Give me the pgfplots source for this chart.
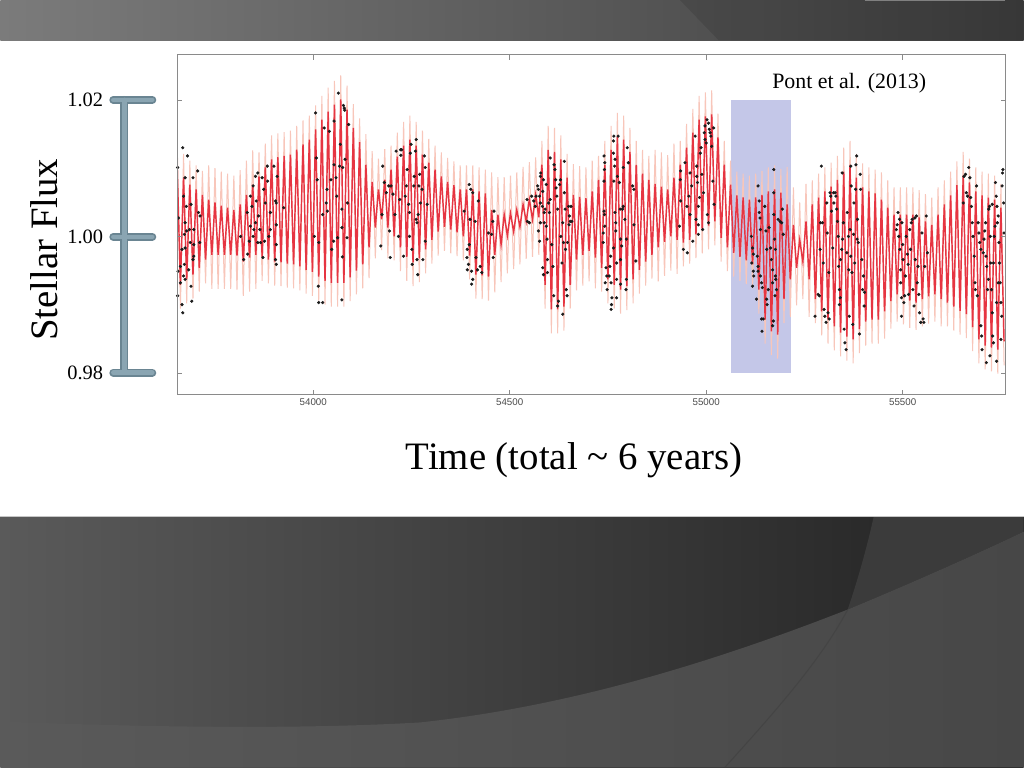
\documentclass[border=0pt]{standalone}
\usepackage{pgfplots}
\pgfplotsset{compat=1.18}
\usepackage{pgfplotstable}
\usepgfplotslibrary{fillbetween}
\usepackage{fontspec}
\setmainfont{Liberation Serif}
\newfontfamily\sansf{Liberation Sans}
\definecolor{topL}{HTML}{7B7B7B}
\definecolor{topR}{HTML}{3E3E3E}
\definecolor{botL}{HTML}{5A5A5A}
\definecolor{botR}{HTML}{222222}
\definecolor{botRT}{HTML}{3B3B3B}
\definecolor{lowL}{HTML}{5A5A5A}
\definecolor{lowR}{HTML}{474747}
\definecolor{barD}{HTML}{6A8592}
\definecolor{barL}{HTML}{8AA5B2}
\definecolor{lav}{HTML}{C4C7E8}
\definecolor{bandfill}{HTML}{FBD5CB}
\definecolor{bandline}{HTML}{F8C6BA}
\definecolor{redline}{HTML}{E63542}
\definecolor{framec}{HTML}{8A8A8A}
\definecolor{dotc}{HTML}{1B1B1B}

\pgfplotstableread{
t m b
53654 1.0098 1.0133
53662 0.9929 0.9894
53670 1.0086 1.0121
53678 0.9937 0.9902
53686 1.0076 1.0111
53694 0.9944 0.9909
53702 1.0069 1.0104
53710 0.9954 0.9919
53718 1.0061 1.0096
53726 0.9966 0.9931
53734 1.0054 1.0104
53742 0.9973 0.9923
53750 1.0050 1.0100
53758 0.9973 0.9923
53766 1.0045 1.0095
53774 0.9973 0.9923
53782 1.0042 1.0092
53790 0.9973 0.9923
53798 1.0039 1.0089
53806 0.9972 0.9922
53814 1.0047 1.0097
53822 0.9963 0.9913
53830 1.0061 1.0111
53838 0.9969 0.9919
53846 1.0076 1.0126
53854 0.9973 0.9923
53862 1.0088 1.0123
53870 0.9970 0.9935
53878 1.0101 1.0136
53886 0.9966 0.9931
53894 1.0113 1.0148
53902 0.9963 0.9928
53910 1.0116 1.0151
53918 0.9962 0.9927
53926 1.0118 1.0153
53934 0.9960 0.9925
53942 1.0120 1.0155
53950 0.9959 0.9924
53958 1.0127 1.0162
53966 0.9956 0.9921
53974 1.0135 1.0170
53982 0.9951 0.9916
53990 1.0142 1.0177
53998 0.9948 0.9913
54006 1.0157 1.0192
54014 0.9941 0.9906
54022 1.0171 1.0206
54030 0.9935 0.9900
54038 1.0183 1.0218
54046 0.9932 0.9897
54054 1.0193 1.0228
54062 0.9932 0.9897
54070 1.0201 1.0236
54078 0.9932 0.9897
54086 1.0186 1.0221
54094 0.9940 0.9905
54102 1.0159 1.0194
54110 0.9950 0.9915
54118 1.0138 1.0173
54126 0.9959 0.9924
54134 1.0105 1.0150
54142 0.9984 0.9939
54150 1.0080 1.0125
54158 1.0013 0.9968
54166 1.0069 1.0114
54174 1.0025 0.9980
54182 1.0083 1.0128
54190 1.0013 0.9968
54198 1.0098 1.0133
54206 1.0000 0.9965
54214 1.0117 1.0152
54222 0.9984 0.9949
54230 1.0133 1.0168
54238 0.9970 0.9935
54246 1.0142 1.0177
54254 0.9962 0.9927
54262 1.0133 1.0168
54270 0.9968 0.9933
54278 1.0120 1.0155
54286 0.9981 0.9946
54294 1.0108 1.0143
54302 0.9995 0.9960
54310 1.0098 1.0133
54318 1.0007 0.9972
54326 1.0088 1.0123
54334 1.0014 0.9979
54342 1.0080 1.0115
54350 1.0010 0.9975
54358 1.0075 1.0110
54366 1.0006 0.9971
54374 1.0069 1.0104
54382 1.0000 0.9965
54390 1.0069 1.0104
54398 0.9972 0.9937
54406 1.0069 1.0104
54414 0.9944 0.9909
54422 1.0066 1.0101
54430 0.9943 0.9908
54438 1.0063 1.0098
54446 0.9941 0.9906
54454 1.0039 1.0094
54462 0.9973 0.9918
54470 1.0032 1.0087
54478 0.9988 0.9933
54486 1.0032 1.0087
54494 1.0001 0.9946
54502 1.0034 1.0089
54510 1.0007 0.9952
54518 1.0039 1.0094
54526 1.0014 0.9959
54534 1.0047 1.0102
54542 1.0022 0.9967
54550 1.0054 1.0109
54558 1.0025 0.9970
54566 1.0061 1.0116
54574 1.0028 0.9973
54582 1.0105 1.0140
54590 0.9929 0.9894
54598 1.0127 1.0162
54606 0.9893 0.9858
54614 1.0124 1.0159
54622 0.9893 0.9858
54630 1.0113 1.0148
54638 0.9897 0.9862
54646 1.0086 1.0121
54654 0.9929 0.9894
54662 1.0061 1.0106
54670 0.9966 0.9921
54678 1.0058 1.0103
54686 0.9973 0.9928
54694 1.0056 1.0101
54702 0.9979 0.9934
54710 1.0066 1.0111
54718 0.9969 0.9924
54726 1.0083 1.0118
54734 0.9954 0.9919
54742 1.0105 1.0140
54750 0.9937 0.9902
54758 1.0127 1.0162
54766 0.9929 0.9894
54774 1.0146 1.0181
54782 0.9922 0.9887
54790 1.0142 1.0177
54798 0.9927 0.9892
54806 1.0124 1.0159
54814 0.9937 0.9902
54822 1.0105 1.0140
54830 0.9951 0.9916
54838 1.0092 1.0127
54846 0.9963 0.9928
54854 1.0083 1.0118
54862 0.9973 0.9938
54870 1.0077 1.0127
54878 0.9984 0.9934
54886 1.0073 1.0123
54894 0.9992 0.9942
54902 1.0069 1.0119
54910 1.0000 0.9950
54918 1.0086 1.0136
54926 0.9995 0.9945
54934 1.0105 1.0140
54942 0.9991 0.9956
54950 1.0130 1.0165
54958 0.9995 0.9960
54966 1.0152 1.0187
54974 1.0003 0.9968
54982 1.0171 1.0206
54990 1.0010 0.9975
54998 1.0176 1.0211
55006 1.0016 0.9981
55014 1.0179 1.0214
55022 1.0022 0.9987
55030 1.0145 1.0180
55038 0.9998 0.9963
55046 1.0105 1.0140
55054 0.9984 0.9949
55062 1.0076 1.0111
55070 0.9976 0.9941
55078 1.0060 1.0095
55086 0.9970 0.9935
55094 1.0057 1.0092
55102 0.9965 0.9930
55110 1.0054 1.0089
55118 0.9959 0.9924
55126 1.0057 1.0092
55134 0.9922 0.9887
55142 1.0061 1.0096
55150 0.9878 0.9843
55158 1.0066 1.0101
55166 0.9861 0.9826
55174 1.0069 1.0104
55182 0.9856 0.9821
55190 1.0064 1.0099
55198 0.9908 0.9873
55206 1.0047 1.0102
55214 0.9937 0.9882
55222 1.0017 1.0072
55230 0.9954 0.9899
55238 0.9995 1.0050
55246 0.9963 0.9908
55254 1.0022 1.0077
55262 0.9937 0.9882
55270 1.0047 1.0082
55278 0.9908 0.9873
55286 1.0057 1.0092
55294 0.9890 0.9855
55302 1.0066 1.0101
55310 0.9878 0.9843
55318 1.0073 1.0108
55326 0.9868 0.9833
55334 1.0083 1.0118
55342 0.9859 0.9824
55350 1.0095 1.0130
55358 0.9853 0.9818
55366 1.0105 1.0140
55374 0.9849 0.9814
55382 1.0086 1.0121
55390 0.9864 0.9829
55398 1.0072 1.0107
55406 0.9875 0.9840
55414 1.0066 1.0101
55422 0.9878 0.9843
55430 1.0063 1.0098
55438 0.9878 0.9843
55446 1.0054 1.0094
55454 0.9890 0.9850
55462 1.0042 1.0082
55470 0.9905 0.9865
55478 1.0032 1.0072
55486 0.9915 0.9875
55494 1.0032 1.0072
55502 0.9911 0.9871
55510 1.0032 1.0072
55518 0.9906 0.9866
55526 1.0032 1.0072
55534 0.9903 0.9863
55542 1.0028 1.0068
55550 0.9908 0.9868
55558 1.0022 1.0062
55566 0.9912 0.9872
55574 1.0017 1.0057
55582 0.9915 0.9875
55590 1.0032 1.0072
55598 0.9908 0.9868
55606 1.0047 1.0082
55614 0.9903 0.9868
55622 1.0060 1.0095
55630 0.9897 0.9862
55638 1.0075 1.0110
55646 0.9891 0.9856
55654 1.0089 1.0124
55662 0.9886 0.9851
55670 1.0079 1.0114
55678 0.9867 0.9832
55686 1.0066 1.0101
55694 0.9849 0.9814
55702 1.0060 1.0095
55710 0.9840 0.9805
55718 1.0057 1.0092
55726 0.9837 0.9802
55734 1.0054 1.0089
55742 0.9834 0.9799
55750 1.0042 1.0077
55758 0.9846 0.9811
}\curve

\pgfplotstableread{
t lo hi
53654 0.9944 1.0076
53712 0.9951 1.0083
53763 0.9944 1.0086
53814 0.9951 1.0076
53865 0.9973 1.0069
53967 0.9973 1.0083
54068 0.9966 1.0127
54145 0.9988 1.0076
54170 0.9966 1.0091
54221 0.9988 1.0091
54323 0.9981 1.0083
54374 0.9959 1.0105
54450 0.9951 1.0069
54501 0.9963 1.0083
54552 0.9973 1.0083
54590 0.9995 1.0069
54679 0.9944 1.0091
54730 0.9959 1.0091
54781 0.9966 1.0083
54882 0.9959 1.0113
54933 0.9966 1.0105
54984 0.9995 1.0113
55035 0.9981 1.0091
55086 0.9959 1.0076
55136 0.9951 1.0054
55187 0.9944 1.0047
55237 0.9915 1.0047
55289 0.9922 1.0039
55391 0.9922 1.0039
55492 0.9929 1.0017
55569 0.9908 1.0039
55645 0.9908 1.0054
55762 0.9893 1.0025
}\env

\begin{document}
\begin{tikzpicture}[x=1bp,y=1bp]
% slide background
\fill[white] (0,0) rectangle (1024,768);
\shade[left color=topL, right color=topR] (0,727.5) rectangle (1024,768);
\fill[black, opacity=0.10] (680,768) -- (719,727.5) -- (1024,727.5) -- (1024,768) -- cycle;
\draw[gray, line width=0.6bp] (865,767.7) -- (1005,767.7);
\shade[left color=botL, right color=botR] (0,0) rectangle (1024,251);
\fill[botRT] (874,251) .. controls (866,215) and (857,185) .. (848,158)
  .. controls (920,188) and (980,215) .. (1024,236) -- (1024,251) -- cycle;
\shade[left color=lowL, right color=lowR] (0,0) -- (0,46) .. controls (150,40) and (300,38) .. (420,45)
  .. controls (560,60) and (700,100) .. (848,158) .. controls (920,188) and (980,215) .. (1024,236)
  -- (1024,0) -- cycle;
\draw[black!75, line width=1.1bp, opacity=0.6] (848,158) .. controls (820,105) and (770,50) .. (725,0);
\draw[gray!45, line width=0.8bp] (0,251) -- (1024,251);

% scale bar
\begin{scope}[line cap=round]
\draw[barD, line width=8bp] (124,668) -- (124,395);
\draw[barD, line width=8bp] (113,668) -- (152,668);
\draw[barD, line width=8bp] (113,531) -- (152,531);
\draw[barD, line width=8bp] (113,395) -- (152,395);
\draw[barL, line width=4.5bp] (124,668) -- (124,395);
\draw[barL, line width=4.5bp] (113,668) -- (152,668);
\draw[barL, line width=4.5bp] (113,531) -- (152,531);
\draw[barL, line width=4.5bp] (113,395) -- (152,395);
\end{scope}

\begin{axis}[
  at={(177bp,373bp)}, anchor=south west,
  scale only axis, width=829bp, height=340bp,
  xmin=53654, xmax=55762, ymin=0.9768, ymax=1.0266,
  scaled x ticks=false, scaled y ticks=false,
  axis on top,
  axis line style={framec, line width=1.1bp},
  tick style={framec, line width=0.7bp},
  major tick length=5bp,
  tick align=inside,
  xtick={54000,54500,55000,55500},
  xticklabels={54000,54500,55000,55500},
  xticklabel style={font=\sansf\fontsize{9.8}{11}\selectfont, text=black!70},
  ytick={0.98,1.00,1.02},
  yticklabels={0.98,1.00,1.02},
  yticklabel style={font=\fontsize{20.5}{24}\selectfont, inner sep=0pt, anchor=east, xshift=-74bp},
]
\addplot[draw=none, fill=lav] coordinates {(55064,0.98) (55215,0.98) (55215,1.02) (55064,1.02)} -- cycle;
\addplot[draw=none, name path=hi, forget plot] table[x=t, y=hi]{\env};
\addplot[draw=none, name path=lo, forget plot] table[x=t, y=lo]{\env};
\addplot[bandfill, opacity=0.8] fill between[of=hi and lo];
\addplot[bandline, line width=1.0bp] table[x=t, y=b]{\curve};
\addplot[redline, line width=1.45bp] table[x=t, y=m]{\curve};
\addplot[only marks, mark=*, mark size=1.4bp, mark options={draw=dotc, fill=dotc}] coordinates {
(53668,1.0130) (53680,1.0118) (53655,1.0101) (53674,1.0086) (53694,1.0086) (53670,1.0059)
(53677,1.0044) (53689,1.0047) (53706,1.0096) (53674,1.0020) (53678,1.0008) (53672,1.0003)
(53685,1.0010) (53696,1.0010) (53666,0.9981) (53674,0.9983) (53687,0.9991) (53696,0.9988)
(53662,0.9956) (53672,0.9959) (53683,0.9951) (53670,0.9942) (53662,0.9932) (53674,0.9937)
(53655,0.9913) (53666,0.9900) (53668,0.9888) (53691,0.9905) (53696,0.9971) (53694,0.9966)
(53708,1.0035) (53712,1.0030) (53711,0.9991) (53689,0.9927) (53656,0.9949) (53657,1.0027)
(53815,1.0000) (53823,0.9966) (53833,0.9974) (53832,1.0035) (53840,1.0059) (53844,1.0044)
(53847,1.0074) (53853,1.0088) (53859,1.0093) (53855,1.0052) (53861,1.0030) (53864,1.0010)
(53870,1.0086) (53874,1.0069) (53878,1.0049) (53883,1.0103) (53884,1.0081) (53866,0.9991)
(53876,0.9993) (53887,1.0000) (53853,1.0020) (53859,0.9991) (53872,0.9969) (53891,1.0010)
(53891,1.0035) (53840,1.0015) (53849,1.0010) (53847,1.0000) (53837,0.9993) (53900,1.0103)
(53904,1.0052) (53906,1.0049) (53908,1.0088) (53906,1.0017) (53906,0.9988) (53904,0.9966)
(53906,0.9959) (53925,1.0042) (54006,1.0181) (54008,1.0115) (54010,1.0083) (54003,1.0000)
(54014,0.9991) (54013,0.9927) (54014,0.9903)
(54024,0.9903) (54024,1.0032) (54028,1.0159) (54035,1.0069) (54033,1.0049) (54036,1.0037)
(54041,1.0154) (54045,1.0083) (54047,0.9981) (54052,0.9993) (54053,1.0169) (54053,1.0105)
(54058,1.0086) (54060,1.0059) (54064,1.0210) (54062,0.9998) (54069,1.0135) (54067,1.0103)
(54073,1.0040) (54073,1.0013) (54074,0.9970) (54073,0.9907) (54077,1.0192) (54079,1.0188)
(54080,1.0185) (54075,1.0101) (54081,1.0113) (54086,0.9998) (54087,1.0049) (54090,1.0164)
(54177,1.0103) (54175,1.0032) (54172,0.9986) (54181,1.0079) (54186,1.0064) (54192,1.0074)
(54194,1.0008) (54196,0.9969) (54198,1.0074) (54203,1.0062) (54208,1.0032) (54211,1.0125)
(54217,1.0000) (54220,1.0054) (54222,1.0127) (54225,1.0127) (54223,1.0119) (54230,0.9971)
(54234,1.0059) (54237,1.0074) (54239,1.0098) (54243,1.0047) (54245,1.0035) (54245,1.0000)
(54247,1.0122) (54249,1.0135) (54251,0.9981) (54252,0.9959) (54257,1.0088) (54256,1.0074)
(54260,1.0125) (54262,1.0142) (54262,1.0025) (54264,1.0020) (54264,0.9966) (54266,0.9944)
(54267,1.0032) (54269,1.0074) (54271,1.0091) (54273,1.0049) (54277,1.0069) (54279,0.9966)
(54283,1.0118) (54285,1.0101) (54285,0.9993) (54290,1.0047)
(54384,1.0037) (54397,1.0076) (54401,1.0069) (54406,1.0064) (54399,1.0025) (54397,0.9988)
(54392,0.9981) (54391,0.9969) (54395,0.9959) (54392,0.9951) (54403,0.9949) (54406,0.9937)
(54403,0.9930) (54412,1.0022) (54414,0.9969) (54418,0.9951) (54420,1.0052) (54425,0.9956)
(54429,0.9947) (54446,1.0005) (54454,1.0003) (54457,1.0022) (54458,0.9969) (54460,1.0037)
(54544,1.0054) (54545,1.0022) (54550,1.0020) (54556,1.0059) (54561,1.0052) (54565,1.0044)
(54567,1.0059) (54571,1.0074) (54573,1.0069) (54576,1.0059) (54578,1.0088) (54579,1.0093)
(54578,1.0020) (54573,1.0008) (54576,0.9993) (54583,1.0044) (54584,1.0066) (54586,1.0083)
(54588,1.0035) (54590,1.0040) (54588,1.0020) (54593,1.0076) (54593,1.0015) (54595,0.9996)
(54596,0.9966) (54599,1.0049) (54601,1.0035) (54603,1.0115) (54603,1.0054) (54607,0.9988)
(54610,0.9956) (54612,0.9913) (54613,1.0105) (54615,1.0098) (54617,1.0083) (54618,1.0071)
(54620,1.0059) (54622,1.0040) (54624,0.9905) (54627,1.0076) (54629,1.0083) (54630,1.0000)
(54633,0.9961) (54635,1.0020) (54637,0.9991) (54639,1.0110) (54639,1.0064) (54641,1.0040)
(54642,0.9981) (54644,0.9922) (54646,0.9913) (54647,0.9991) (54650,1.0044) (54651,1.0017)
(54652,1.0030) (54654,1.0022) (54656,1.0044) (54658,1.0022) (54635,0.9886) (54622,0.9898)
(54584,0.9954) (54586,0.9944) (54596,0.9947) (54578,1.0049)
(54740,1.0118) (54742,1.0108) (54741,1.0098) (54740,1.0081) (54740,1.0037) (54741,1.0032)
(54742,1.0015) (54738,1.0005) (54738,0.9991) (54745,0.9954) (54747,0.9942) (54743,0.9932)
(54748,0.9922) (54753,0.9942) (54757,0.9971) (54755,0.9956) (54758,0.9932) (54760,0.9910)
(54759,0.9900) (54758,0.9893) (54764,0.9983) (54764,1.0122) (54765,1.0147) (54764,1.0140)
(54768,1.0113) (54767,1.0103) (54765,1.0081) (54768,1.0035) (54770,1.0020) (54770,1.0008)
(54772,0.9961) (54772,0.9937) (54772,0.9910) (54776,1.0147) (54774,1.0088) (54779,1.0079)
(54781,1.0040) (54782,0.9996) (54785,0.9986) (54782,0.9966) (54782,0.9930) (54789,1.0101)
(54789,1.0044) (54787,1.0040) (54793,1.0025) (54797,0.9996) (54797,0.9937) (54796,0.9922)
(54799,1.0130) (54802,1.0108) (54813,1.0074) (54816,1.0069) (54816,1.0017) (54821,0.9964)
(54932,1.0015) (54934,1.0083) (54935,1.0096) (54935,1.0052) (54942,0.9981) (54946,1.0108)
(54951,1.0044) (54952,0.9976) (54956,1.0059) (54959,1.0093) (54959,1.0032) (54963,1.0074)
(54966,0.9993) (54972,1.0147) (54976,1.0103) (54976,1.0088) (54978,1.0079) (54974,1.0025)
(54980,1.0044) (54980,1.0017) (54980,1.0003) (54983,1.0057) (54985,1.0122) (54987,1.0130)
(54989,1.0091) (54991,1.0010) (54993,1.0064) (54997,1.0162) (54995,1.0152) (54997,1.0142)
(55000,1.0137) (55002,1.0171) (55003,1.0032) (55006,1.0166) (55006,1.0020) (55008,1.0157)
(55010,1.0152) (55012,1.0147) (55014,1.0132) (55017,1.0081) (55019,1.0159) (55020,1.0047)
(55115,1.0000) (55118,0.9983) (55120,0.9974) (55116,0.9961) (55120,0.9949) (55121,0.9942)
(55118,0.9927) (55128,0.9908) (55132,1.0074) (55135,1.0052) (55135,1.0035) (55137,1.0027)
(55138,1.0010) (55130,0.9971) (55132,0.9956) (55132,0.9949) (55138,0.9942) (55141,0.9932)
(55143,0.9925) (55141,0.9879) (55142,0.9861) (55145,0.9879) (55149,1.0044) (55152,1.0008)
(55154,0.9981) (55154,0.9908) (55155,0.9900) (55158,0.9922) (55160,1.0013) (55164,0.9983)
(55166,0.9966) (55169,0.9951) (55169,0.9932) (55169,0.9869) (55171,0.9876) (55172,1.0098)
(55172,1.0064) (55172,1.0032) (55174,0.9996) (55176,0.9981) (55176,0.9942) (55177,0.9937)
(55179,0.9922) (55183,1.0025) (55188,1.0022) (55192,1.0020) (55194,1.0040) (55196,1.0003)
(55175,0.9913)
(55277,0.9883) (55285,0.9915) (55288,0.9913) (55290,0.9981) (55291,1.0020) (55293,1.0103)
(55296,1.0020) (55298,0.9961) (55300,0.9893) (55302,0.9883) (55305,0.9874) (55307,1.0049)
(55308,1.0005) (55310,0.9888) (55312,0.9947) (55313,0.9879) (55315,1.0064) (55317,1.0059)
(55319,1.0037) (55322,0.9983) (55324,1.0064) (55325,1.0049) (55328,1.0064) (55330,1.0059)
(55332,1.0040) (55334,1.0022) (55336,1.0000) (55337,0.9956) (55339,0.9922) (55341,0.9910)
(55339,0.9900) (55342,0.9966) (55345,0.9981) (55346,1.0093) (55347,0.9996) (55349,1.0020)
(55351,0.9864) (55353,0.9844) (55356,0.9834) (55358,0.9976) (55359,1.0035) (55362,1.0000)
(55363,0.9951) (55364,0.9883) (55366,1.0010) (55368,1.0103) (55368,0.9971) (55369,1.0074)
(55371,0.9947) (55373,0.9871) (55375,1.0003) (55376,1.0049) (55378,0.9961) (55380,1.0069)
(55381,1.0105) (55383,1.0118) (55384,0.9996) (55385,1.0025) (55387,0.9991) (55390,0.9857)
(55392,1.0091) (55393,1.0069) (55396,0.9966) (55398,0.9922) (55400,0.9942) (55402,0.9898)
(55403,0.9918)
(55484,1.0010) (55486,1.0017) (55488,1.0035) (55490,1.0000) (55492,1.0025) (55493,0.9981)
(55495,0.9951) (55495,0.9932) (55497,0.9910) (55497,0.9883) (55498,1.0020) (55500,0.9988)
(55501,0.9966) (55503,0.9903) (55505,0.9913) (55507,0.9942) (55509,1.0000) (55512,0.9974)
(55514,0.9959) (55515,0.9915) (55518,1.0010) (55520,0.9981) (55522,1.0020) (55524,1.0025)
(55526,0.9922) (55529,0.9898) (55531,1.0027) (55532,0.9966) (55535,1.0030) (55537,0.9932)
(55539,0.9956) (55541,0.9915) (55543,0.9888) (55546,0.9874) (55549,1.0005) (55552,0.9879)
(55554,0.9874) (55556,0.9956) (55560,1.0030) (55563,0.9976)
(55654,1.0049) (55656,1.0088) (55660,1.0091) (55662,1.0064) (55665,1.0059) (55668,1.0101)
(55671,1.0086) (55673,1.0057) (55675,1.0044) (55677,1.0020) (55679,1.0000) (55682,0.9971)
(55684,0.9932) (55685,0.9922) (55688,1.0074) (55690,0.9913) (55692,1.0020) (55694,1.0005)
(55696,0.9991) (55699,0.9981) (55699,0.9869) (55701,0.9854) (55702,0.9834) (55705,0.9976)
(55707,0.9996) (55709,1.0008) (55711,1.0020) (55712,0.9971) (55714,0.9956) (55716,0.9922)
(55718,0.9937) (55719,1.0040) (55721,1.0044) (55723,1.0000) (55724,0.9961) (55726,0.9922)
(55728,0.9888) (55729,0.9854) (55731,0.9844) (55733,1.0000) (55735,1.0015) (55736,1.0079)
(55738,1.0059) (55740,1.0044) (55741,1.0020) (55743,1.0030) (55745,0.9991) (55746,0.9961)
(55748,0.9932) (55750,0.9903) (55752,0.9883) (55753,1.0074) (55754,1.0093) (55755,1.0098)
(55757,1.0049) (55758,1.0005) (55713,0.9815) (55722,0.9825) (55739,0.9817) (55728,1.0047)
(55731,0.9961) (55739,0.9903) (55743,0.9932) (55750,0.9849)
};
\end{axis}

% texts
\node[rotate=90, font=\fontsize{39}{45}\selectfont] at (44,518) {Stellar Flux};
\node[anchor=base, font=\fontsize{39}{45}\selectfont] at (574,298) {Time (total \textasciitilde{} 6 years)};
\node[anchor=base, font=\fontsize{22}{26}\selectfont] at (849.5,679) {Pont et al. (2013)};
\end{tikzpicture}
\end{document}
